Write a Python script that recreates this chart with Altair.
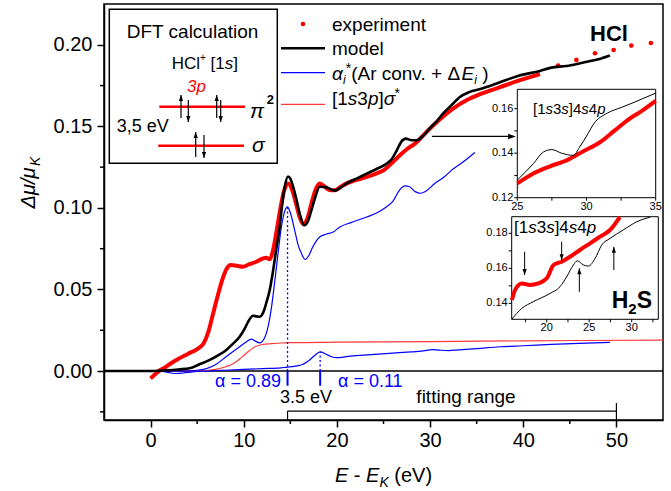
import altair as alt
import pandas as pd

# ---------------- main chart data ----------------
exp_x = [0, 0.5, 1, 1.5, 2, 3, 4, 5, 5.7, 6.2, 6.7, 7.2, 7.7, 8.1, 8.6, 9.3, 9.9, 10.6, 11.35, 12.05,
         12.4, 12.8, 13.1, 13.5, 13.9, 14.3, 14.75, 15.2, 15.6, 16.0, 16.4, 16.8, 17.26, 17.7, 18.15,
         18.6, 19.2, 19.76, 20.4, 21.0, 22.0, 23.2, 24.2, 25.0, 25.8, 26.7, 27.5, 28.5, 29.6, 31.0,
         32.5, 33.9, 35.5, 37.5, 39.5, 41.8]
exp_y = [-0.0045, -0.002, 0.0005, 0.002, 0.004, 0.0075, 0.0105, 0.0135, 0.017, 0.024, 0.035, 0.046,
         0.056, 0.062, 0.065, 0.0645, 0.064, 0.0655, 0.067, 0.069, 0.0695, 0.0685, 0.073, 0.085, 0.0985,
         0.110, 0.115, 0.111, 0.103, 0.0944, 0.090, 0.093, 0.1026, 0.111, 0.1149, 0.1135, 0.111, 0.1108,
         0.113, 0.1149, 0.117, 0.119, 0.121, 0.123, 0.127, 0.132, 0.136, 0.140, 0.1465, 0.154, 0.161,
         0.166, 0.170, 0.174, 0.178, 0.182]
exp_sparse_x = [43.75, 45.7, 47.7, 49.7, 51.6, 53.7]
exp_sparse_y = [0.1873, 0.1907, 0.1948, 0.1968, 0.1995, 0.2011]

model_x = [-5, 0, 2, 3, 4.2, 5.2, 6.3, 7.2, 8.1, 8.8, 9.56, 10.1, 10.45, 11.0, 11.4, 11.7, 12.1, 12.4,
           12.8, 13.1, 13.5, 13.86, 14.1, 14.4, 14.75, 15.0, 15.3, 15.7, 16.0, 16.5, 16.9, 17.26, 17.7,
           18.15, 18.87, 19.76, 20.4, 21.0, 22.1, 23.2, 24.3, 25.3, 25.9, 26.4, 26.9, 27.4, 28.0, 28.6,
           29.3, 30.0, 30.6, 31.5, 32.3, 33.2, 34.2, 35.5, 37.5, 39.5, 41.8, 43.0, 44.65, 46.0, 47.2,
           48.3, 49.3]
model_y = [0, 0, 0.0005, 0.001, 0.0017, 0.004, 0.0067, 0.0095, 0.0128, 0.0165, 0.021, 0.026, 0.030,
           0.0339, 0.0335, 0.0333, 0.036, 0.0414, 0.050, 0.0598, 0.075, 0.0883, 0.101, 0.113, 0.1193,
           0.118, 0.113, 0.104, 0.0965, 0.0894, 0.092, 0.0985, 0.107, 0.113, 0.1126, 0.1106, 0.1125,
           0.1149, 0.118, 0.121, 0.124, 0.127, 0.130, 0.135, 0.1405, 0.1425, 0.1415, 0.1415, 0.1445,
           0.149, 0.1525, 0.1585, 0.163, 0.168, 0.171, 0.173, 0.177, 0.181, 0.184, 0.186, 0.187, 0.1885,
           0.190, 0.1915, 0.1934]

alpha_big_x = [-5, 4, 5, 6, 7, 8.1, 9.56, 10.3, 10.8, 11.2, 11.7, 12.2, 12.6, 13.0, 13.3, 13.7, 14.04,
               14.4, 14.68, 15.0, 15.47, 15.8, 16.2, 16.6, 17.0, 17.4, 18.15, 18.9, 19.6, 20.3, 21.5,
               23.2, 24.3, 25.3, 26.0, 26.7, 27.3, 27.8, 28.4, 29.0, 29.6, 30.5, 31.5, 32.5, 33.5, 34.8]
alpha_big_y = [0, 0, 0.0005, 0.0015, 0.004, 0.0088, 0.0149, 0.018, 0.0196, 0.0185, 0.0173, 0.020, 0.027,
               0.040, 0.0537, 0.073, 0.0883, 0.098, 0.1006, 0.097, 0.0863, 0.078, 0.072, 0.0684, 0.071,
               0.076, 0.0822, 0.084, 0.0852, 0.0883, 0.091, 0.0944, 0.097, 0.1006, 0.104, 0.1108, 0.1135,
               0.113, 0.110, 0.109, 0.1105, 0.115, 0.119, 0.124, 0.128, 0.134]

alpha_small_x = [-5, 1, 2, 2.7, 3.5, 4.5, 6, 8, 10, 12, 14, 15.5, 16.3, 17.0, 17.6, 18.2, 18.8, 19.4,
                 20.0, 21, 22, 24, 26, 28, 29.5, 30.2, 31, 32, 33, 35, 37.5, 40, 43, 46, 49.3]
alpha_small_y = [0, 0, -0.001, -0.0015, -0.0012, -0.0005, 0, 0.0005, 0.001, 0.0015, 0.002, 0.003, 0.004,
                 0.0065, 0.0095, 0.0118, 0.0105, 0.0088, 0.0082, 0.0088, 0.0095, 0.0102, 0.011, 0.0118,
                 0.0125, 0.0132, 0.0128, 0.0125, 0.013, 0.0138, 0.0149, 0.0155, 0.0163, 0.017, 0.0176]

sigma_x = [-5, 5, 6, 7, 8, 9, 9.6, 10, 10.5, 11, 11.5, 12, 13, 14, 15, 20, 30, 40, 55]
sigma_y = [0, 0, 0.0003, 0.001, 0.0025, 0.005, 0.0075, 0.0095, 0.012, 0.0142, 0.0155, 0.0163, 0.0168,
           0.0172, 0.0174, 0.0177, 0.0181, 0.0185, 0.019]

# ---------------- inset data ----------------
hcl_exp_x = [25, 26.16, 27.4, 28.57, 29.77, 30.97, 32.0, 33.0, 34.0, 35.0]
hcl_exp_y = [0.1264, 0.1309, 0.1342, 0.1368, 0.1409, 0.1449, 0.150, 0.155, 0.159, 0.1635]
hcl_mod_x = [25, 26.16, 26.88, 27.5, 28.2, 29.05, 29.5, 30.1, 30.5, 31.5, 32.5, 33.5, 35]
hcl_mod_y = [0.1279, 0.1353, 0.1405, 0.1416, 0.140, 0.139, 0.1427, 0.1487, 0.153, 0.158, 0.1605, 0.163, 0.167]

h2s_exp_x = [15.9, 16.27, 17.06, 18.0, 19.0, 20.0, 20.8, 21.76, 22.74, 23.9, 25.1, 26.27, 27.45, 28.6]
h2s_exp_y = [0.1419, 0.1476, 0.1514, 0.1505, 0.1514, 0.1543, 0.1619, 0.1638, 0.1666, 0.1705, 0.1743,
             0.1781, 0.1819, 0.1893]
h2s_mod_x = [15.9, 17.06, 18.4, 20.4, 21.56, 22.35, 23.13, 23.6, 24.3, 24.9, 25.7, 26.47, 27.45, 29.0, 30.6, 32.2]
h2s_mod_y = [0.1310, 0.1371, 0.1409, 0.1457, 0.1495, 0.1552, 0.1619, 0.1643, 0.162, 0.1613, 0.1657,
             0.1733, 0.1771, 0.1819, 0.1866, 0.1893]
h2s_arrow_x = [17.4, 21.76, 23.84, 27.9]
h2s_arrow_from = [0.1695, 0.1752, 0.1466, 0.159]
h2s_arrow_to = [0.1562, 0.1647, 0.160, 0.1723]

# tick values / labels
x_major = [0, 10, 20, 30, 40, 50]
x_minor = [5, 15, 25, 35, 45]
y_major = [0.0, 0.05, 0.10, 0.15, 0.20]
y_minor = [-0.025, 0.025, 0.075, 0.125, 0.175]

# ---------------- layout constants ----------------
OX, OY = 104, 4
W, H = 559, 416
BLUE = '#0000ff'
RED = '#ff0000'
LRED = '#ff3a3a'
FONT = 'Liberation Sans'
ARROW = 'M0,0L0.6,1.7L-0.6,1.7Z'

xs = alt.Scale(domain=[-5, 55], nice=False, zero=False)
ys = alt.Scale(domain=[-0.03, 0.225], nice=False, zero=False)
common_ax = dict(title=None, labelFontSize=20, labelFont=FONT, labelColor='black', tickSize=7,
                 tickWidth=1.5, tickColor='black', domainColor='black', domainWidth=1.5, grid=False,
                 labelFlush=False)
xaxis = alt.Axis(values=x_major, format='d', labelPadding=3, **common_ax)
yaxis = alt.Axis(values=y_major, format='.2f', labelPadding=5, **common_ax)


def X(f):
    return alt.X(f, type='quantitative', scale=xs, axis=xaxis)


def Y(f):
    return alt.Y(f, type='quantitative', scale=ys, axis=yaxis)


def PX(f):
    return alt.X(f, type='quantitative', scale=None, axis=None)


def PY(f):
    return alt.Y(f, type='quantitative', scale=None, axis=None)


def line(xv, yv, color, w):
    df = pd.DataFrame({'x': xv, 'y': yv})
    return alt.Chart(df).mark_line(color=color, strokeWidth=w, interpolate='monotone').encode(
        x=X('x'), y=Y('y'))


def segs(rows, color, w, dash=None):
    df = pd.DataFrame(rows, columns=['x', 'x2', 'y', 'y2'])
    kw = dict(color=color, strokeWidth=w)
    if dash:
        kw['strokeDash'] = dash
    return alt.Chart(df).mark_rule(**kw).encode(x=X('x'), x2='x2', y=Y('y'), y2='y2')


main_layers = [
    segs([(-5, 55, 0, 0)], 'black', 1.5),
    line(sigma_x, sigma_y, LRED, 1.2),
    line(alpha_small_x, alpha_small_y, BLUE, 1.2),
    line(alpha_big_x, alpha_big_y, BLUE, 1.2),
    line(exp_x, exp_y, RED, 4),
    alt.Chart(pd.DataFrame({'x': exp_sparse_x, 'y': exp_sparse_y})).mark_point(
        filled=True, color=RED, size=22, opacity=1).encode(x=X('x'), y=Y('y')),
    line(model_x, model_y, 'black', 2.6),
    segs([(14.7, 14.7, 0, 0.1006), (18.2, 18.2, 0, 0.0118)], BLUE, 1.3, [2, 2.5]),
    segs([(14.7, 14.7, 0, -0.009), (18.2, 18.2, 0, -0.009)], BLUE, 2),
    segs([(14.7, 50, -0.0245, -0.0245), (14.7, 14.7, -0.0245, -0.03), (50, 50, -0.0196, -0.03)], 'black', 1.2),
    segs([(30.2, 38.9, 0.1438, 0.1438)], 'black', 1.2),
    alt.Chart(pd.DataFrame({'x': [39.2], 'y': [0.1438], 'a': [90]})).mark_point(
        shape=ARROW, filled=True, size=81, color='black', opacity=1).encode(
        x=X('x'), y=Y('y'), angle=alt.Angle('a:Q', scale=None)),
    alt.Chart(pd.DataFrame({'x': x_minor})).mark_rule(color='black', strokeWidth=1.5).encode(
        x=X('x'), y=alt.value(H), y2=alt.value(H + 4)),
    alt.Chart(pd.DataFrame({'y': y_minor})).mark_rule(color='black', strokeWidth=1.5).encode(
        y=Y('y'), x=alt.value(0), x2=alt.value(-4)),
]
main_group = alt.layer(*main_layers)


# ---------------- insets ----------------
def inset(xdom, ydom, xr, yr, ex, ey, mx, my, xticks, yticks, xlabels, ylabels, extra=()):
    sx = alt.Scale(domain=xdom, range=xr, nice=False, zero=False)
    sy = alt.Scale(domain=ydom, range=yr, nice=False, zero=False)

    def IX(f):
        return alt.X(f, type='quantitative', scale=sx, axis=None)

    def IY(f):
        return alt.Y(f, type='quantitative', scale=sy, axis=None)

    frame = alt.Chart(pd.DataFrame({'x': [xdom[0]], 'x2': [xdom[1]], 'y': [ydom[0]], 'y2': [ydom[1]]})).mark_rect(
        fill='white', stroke='black', strokeWidth=1).encode(x=IX('x'), x2='x2', y=IY('y'), y2='y2')
    xt = alt.Chart(pd.DataFrame({'x': xticks})).mark_rule(color='black', strokeWidth=1).encode(
        x=IX('x'), y=alt.value(yr[0]), y2=alt.value(yr[0] + 3))
    yt = alt.Chart(pd.DataFrame({'y': yticks})).mark_rule(color='black', strokeWidth=1).encode(
        y=IY('y'), x=alt.value(xr[0]), x2=alt.value(xr[0] - 3))
    xl = alt.Chart(pd.DataFrame({'x': xlabels, 't': [str(v) for v in xlabels]})).mark_text(
        font=FONT, fontSize=11, align='center', baseline='middle', color='black').encode(
        x=IX('x'), y=alt.value(yr[0] + 9), text='t:N')
    yl = alt.Chart(pd.DataFrame({'y': ylabels, 't': ['%.2f' % v for v in ylabels]})).mark_text(
        font=FONT, fontSize=11, align='right', baseline='middle', color='black').encode(
        y=IY('y'), x=alt.value(xr[0] - 4), text='t:N')
    ed = pd.DataFrame({'x': ex, 'y': ey})
    el = alt.Chart(ed).mark_line(color=RED, strokeWidth=4, interpolate='monotone').encode(x=IX('x'), y=IY('y'))
    md = pd.DataFrame({'x': mx, 'y': my})
    ml = alt.Chart(md).mark_line(color='black', strokeWidth=1, interpolate='monotone').encode(x=IX('x'), y=IY('y'))
    layers = [frame, xt, yt, xl, yl, el, ml]
    for kind, data in extra:
        if kind == 'arrows':
            ad = pd.DataFrame(data)
            layers.append(alt.Chart(ad).mark_rule(color='black', strokeWidth=1).encode(
                x=IX('x'), y=IY('y1'), y2='y2'))
            layers.append(alt.Chart(ad).mark_point(shape=ARROW, filled=True, size=49, color='black',
                                                   opacity=1).encode(
                x=IX('x'), y=IY('y2'), angle=alt.Angle('a:Q', scale=None)))
    return alt.layer(*layers)


inset_hcl = inset([25, 35], [0.12, 0.1687], [413.3, 551.7], [193.7, 85.3],
                  hcl_exp_x, hcl_exp_y, hcl_mod_x, hcl_mod_y,
                  [25, 27.5, 30, 32.5, 35], [0.12, 0.13, 0.14, 0.15, 0.16],
                  [25, 30, 35], [0.12, 0.14, 0.16])

h2s_arrows = {'x': h2s_arrow_x, 'y1': h2s_arrow_from, 'y2': h2s_arrow_to,
              'a': [180 if t < f else 0 for f, t in zip(h2s_arrow_from, h2s_arrow_to)]}
inset_h2s = inset([15.88, 33.13], [0.1309, 0.1895], [407.7, 554.3], [315.3, 212.7],
                  h2s_exp_x, h2s_exp_y, h2s_mod_x, h2s_mod_y,
                  [17.5, 20, 22.5, 25, 27.5, 30, 32.5], [0.14, 0.15, 0.16, 0.17, 0.18],
                  [20, 25, 30], [0.14, 0.16, 0.18], extra=[('arrows', h2s_arrows)])

# ---------------- overlay: legend, DFT box, texts ----------------
CW = {'0': .556, '1': .556, '2': .556, '3': .556, '4': .556, '5': .556, '6': .556, '7': .556, '8': .556,
      '9': .556, '.': .278, ',': .278, ' ': .278, '[': .278, ']': .278, '(': .333, ')': .333, '+': .584,
      '-': .333, '*': .389, '=': .584, '/': .278,
      'a': .556, 'c': .5, 'd': .556, 'e': .556, 'f': .278, 'g': .556, 'i': .222, 'l': .222, 'm': .833,
      'n': .556, 'o': .556, 'p': .556, 'r': .333, 's': .5, 't': .278, 'u': .556, 'v': .5, 'x': .5,
      'A': .667, 'C': .722, 'D': .722, 'E': .667, 'F': .611, 'H': .722, 'K': .667, 'S': .667, 'T': .611,
      'V': .667, 'α': .58, 'σ': .57, 'π': .57, 'μ': .58, 'Δ': .67}


def tw(s, size):
    return sum(CW.get(c, 0.556) for c in s) * size


def rich(parts, x0, base, anchor='left', color='black'):
    total = sum(tw(p[0], p[1]) for p in parts if (len(p) < 5 or p[4]))
    if anchor == 'right':
        x0 -= total
    elif anchor == 'center':
        x0 -= total / 2
    out, x = [], x0
    for p in parts:
        t, size, style = p[0], p[1], p[2]
        dy = p[3] if len(p) > 3 else 0
        adv = p[4] if len(p) > 4 else True
        lead = len(t) - len(t.lstrip(' '))
        out.append(dict(px=x + tw(' ' * lead, size) - OX, py=base + dy - OY, text=t.strip(' '),
                        size=size, style=style, color=color))
        if adv:
            x += tw(t, size)
    return out


texts = []
texts += rich([('experiment', 19, 'n')], 332, 30.8)
texts += rich([('model', 19, 'n')], 332, 54.8)
texts += rich([('α', 19, 'i'), ('i', 12, 'i', 4), ('*', 14, 'n', -7), ('(Ar conv. + Δ', 19, 'n'),
               ('E', 19, 'i'), ('i', 12, 'i', 4), (' )', 19, 'n')], 332, 80)
texts += rich([('[1', 19, 'n'), ('s', 19, 'i'), ('3', 19, 'n'), ('p', 19, 'i'), (']', 19, 'n'),
               ('σ', 19, 'i'), ('*', 14, 'n', -7)], 332, 105)
texts += rich([('HCl', 22, 'b')], 590, 41)
texts += rich([('DFT calculation', 19, 'n')], 126.7, 38)
texts += rich([('HCl', 17, 'n'), ('+', 10, 'n', -8), (' [1', 17, 'n'), ('s', 17, 'i'), (']', 17, 'n')], 171.7, 69)
texts += rich([('3p', 17, 'i')], 187, 92, color=RED)
texts += rich([('π', 21, 'i')], 250, 118)
texts += rich([('2', 13, 'b')], 266.7, 104)
texts += rich([('σ', 21, 'i')], 252, 152)
texts += rich([('3,5 eV', 18, 'n')], 116.7, 131.5)
inset_label = [('[1', 15, 'n'), ('s', 15, 'i'), ('3', 15, 'n'), ('s', 15, 'i'), (']4', 15, 'n'),
               ('s', 15, 'i'), ('4', 15, 'n'), ('p', 15, 'i')]
texts += rich(inset_label, 533, 114)
texts += rich([(p[0], 17, p[2]) for p in inset_label], 514, 233)
texts += rich([('H', 23, 'b'), ('2', 15, 'b', 6), ('S', 23, 'b')], 611.7, 308)
texts += rich([('α = 0.89', 18, 'n')], 281, 387, anchor='right', color=BLUE)
texts += rich([('α = 0.11', 18, 'n')], 338, 387, color=BLUE)
texts += rich([('3.5 eV', 18, 'n')], 280, 403)
texts += rich([('fitting range', 19, 'n')], 466, 403, anchor='center')
texts += rich([('E', 20, 'i'), (' - ', 20, 'n'), ('E', 20, 'i'), ('K', 14, 'i', 5), (' (eV)', 20, 'n')],
              383.5, 482, anchor='center')
tdf = pd.DataFrame(texts)


def text_layer(style):
    kw = dict(font=FONT, align='left', baseline='alphabetic')
    if style == 'i':
        kw['fontStyle'] = 'italic'
    if style == 'b':
        kw['fontWeight'] = 'bold'
    return alt.Chart(tdf[tdf['style'] == style]).mark_text(**kw).encode(
        x=PX('px'), y=PY('py'), text='text:N', size=alt.Size('size:Q', scale=None, legend=None),
        color=alt.Color('color:N', scale=None, legend=None))


# pixel-space drawing elements (page coordinates, shifted to the plot origin)
box = pd.DataFrame({'x': [109.3 - OX], 'x2': [277.3 - OX], 'y': [9.3 - OY], 'y2': [163.3 - OY]})
leg_lines = pd.DataFrame({'x': [281 - OX] * 3, 'x2': [325 - OX] * 3,
                          'y': [48.3 - OY, 72.7 - OY, 104.3 - OY],
                          'c': ['black', BLUE, LRED], 'w': [2.6, 1.2, 1.2]})
level_lines = pd.DataFrame({'x': [159.3 - OX, 158.3 - OX], 'x2': [245 - OX, 244 - OX],
                            'y': [106.7 - OY, 145.7 - OY]})
spin_x = [181, 216.7, 195.7, 188.3, 220.7, 204]
spin_from = [118, 118, 157, 100, 100, 135]
spin_tip = [95, 95, 132, 122, 122, 158]
spins = pd.DataFrame({'x': [v - OX for v in spin_x], 'y1': [v - OY for v in spin_from],
                      'y2': [v - OY for v in spin_tip],
                      'a': [0 if t < f else 180 for f, t in zip(spin_from, spin_tip)]})

ytitle = pd.DataFrame({'px': [29 - OX], 'py': [188 - OY], 't': ['Δμ/μ']})
ytitle_k = pd.DataFrame({'px': [36 - OX], 'py': [166 - OY], 't': ['K']})

overlay = alt.layer(
    alt.Chart(box).mark_rect(fill='white', stroke='black', strokeWidth=1.5).encode(
        x=PX('x'), x2='x2', y=PY('y'), y2='y2'),
    alt.Chart(level_lines).mark_rule(color=RED, strokeWidth=2.5).encode(x=PX('x'), x2='x2', y=PY('y')),
    alt.Chart(spins).mark_rule(color='black', strokeWidth=1.2).encode(x=PX('x'), y=PY('y1'), y2='y2'),
    alt.Chart(spins).mark_point(shape=ARROW, filled=True, size=49, color='black', opacity=1).encode(
        x=PX('x'), y=PY('y2'), angle=alt.Angle('a:Q', scale=None)),
    alt.Chart(leg_lines).mark_rule().encode(
        x=PX('x'), x2='x2', y=PY('y'), color=alt.Color('c:N', scale=None, legend=None),
        strokeWidth=alt.StrokeWidth('w:Q', scale=None, legend=None)),
    alt.Chart(pd.DataFrame({'x': [303 - OX], 'y': [24 - OY]})).mark_point(
        filled=True, color=RED, size=22, opacity=1).encode(x=PX('x'), y=PY('y')),
    text_layer('n'), text_layer('i'), text_layer('b'),
    alt.Chart(ytitle).mark_text(font=FONT, fontSize=20, fontStyle='italic', angle=270, align='center',
                                baseline='middle', color='black').encode(x=PX('px'), y=PY('py'), text='t:N'),
    alt.Chart(ytitle_k).mark_text(font=FONT, fontSize=14, fontStyle='italic', angle=270, align='left',
                                  baseline='middle', color='black').encode(x=PX('px'), y=PY('py'), text='t:N'),
)

chart = alt.layer(main_group, inset_hcl, inset_h2s, overlay).resolve_scale(
    x='independent', y='independent'
).properties(
    width=W, height=H,
    padding={'left': OX, 'top': OY, 'right': 671 - OX - W, 'bottom': 491 - OY - H},
    autosize=alt.AutoSizeParams(type='none'),
    background='white',
).configure_view(stroke='black', strokeWidth=1.5)

chart.save('out.html', embed_options={'renderer': 'svg', 'actions': False})
